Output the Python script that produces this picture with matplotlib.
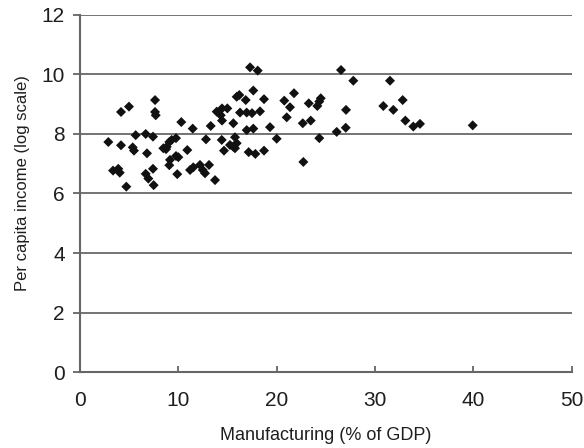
import matplotlib
matplotlib.use("Agg")
import matplotlib.pyplot as plt

# manufacturing share of GDP (%) and log per capita income
manufacturing = [
    2.88, 3.36, 3.89, 4.04, 4.17, 4.17, 4.98, 4.71, 5.36, 5.49,
    5.66, 6.68, 6.81, 6.68, 6.95, 7.42, 7.42, 7.49, 7.63, 7.63,
    7.70, 8.47, 9.08, 9.32, 9.76, 8.82, 8.75, 9.15, 9.08, 9.76,
    10.0, 10.91, 9.89, 10.30, 11.46, 13.29, 11.19, 11.52, 12.2, 12.48,
    12.71, 13.73, 12.81, 13.12, 17.29, 18.07, 15.93, 16.2, 16.85, 17.62,
    18.71, 20.77, 21.76, 23.26, 13.9, 14.44, 14.98, 14.31, 14.44, 16.27,
    16.95, 17.49, 18.3, 21.35, 21.02, 15.59, 16.95, 17.62, 19.32, 22.65,
    23.46, 14.41, 15.76, 20.0, 14.64, 15.25, 15.59, 15.93, 15.76, 17.15,
    17.83, 18.71, 22.71, 26.54, 27.79, 31.52, 24.13, 24.33, 24.48, 27.05,
    30.84, 32.81, 31.86, 33.08, 33.89, 34.57, 39.93, 24.33, 26.1, 27.02,
]
income = [
    7.73, 6.77, 6.83, 6.70, 7.62, 8.74, 8.92, 6.23, 7.55, 7.44,
    7.96, 8.00, 7.35, 6.66, 6.50, 7.91, 6.83, 6.28, 9.14, 8.74,
    8.63, 7.52, 7.73, 7.80, 7.86, 7.57, 7.49, 7.13, 6.95, 7.26,
    7.22, 7.46, 6.65, 8.40, 8.18, 8.27, 6.79, 6.88, 6.96, 6.79,
    6.68, 6.45, 7.82, 6.96, 10.24, 10.13, 9.25, 9.31, 9.14, 9.46,
    9.17, 9.12, 9.37, 9.03, 8.75, 8.86, 8.86, 8.63, 8.45, 8.72,
    8.72, 8.70, 8.76, 8.90, 8.56, 8.36, 8.13, 8.18, 8.23, 8.36,
    8.45, 7.80, 7.89, 7.84, 7.44, 7.63, 7.57, 7.69, 7.52, 7.39,
    7.33, 7.44, 7.06, 10.15, 9.79, 9.79, 8.94, 9.09, 9.20, 8.81,
    8.94, 9.14, 8.81, 8.45, 8.25, 8.34, 8.29, 7.86, 8.07, 8.21,
]
x_ticks = [0, 10, 20, 30, 40, 50]
y_ticks = [0, 2, 4, 6, 8, 10, 12]

plt.rcParams['font.family'] = ['Liberation Sans', 'DejaVu Sans']
text_color = "#1e1e1e"

fig = plt.figure(figsize=(5.84, 4.48), dpi=100)
ax = fig.add_axes([0.137, 0.1696, 0.842, 0.797])

for y in y_ticks[1:]:
    ax.axhline(y, color="#747474", lw=1.4, zorder=1)

ax.scatter(manufacturing, income, marker="D", s=26, color="#111111",
           edgecolors="none", zorder=3)

ax.set_xlim(0, 50)
ax.set_ylim(0, 12)
ax.set_xticks(x_ticks)
ax.set_yticks(y_ticks)

for side in ("top", "right"):
    ax.spines[side].set_visible(False)
for side in ("left", "bottom"):
    ax.spines[side].set_color("#666666")
    ax.spines[side].set_linewidth(1.5)

ax.tick_params(axis="x", direction="in", length=4, width=1.3, color="#666666",
               pad=14, labelsize=15, labelcolor=text_color)
ax.tick_params(axis="y", direction="out", length=5, width=1.3, color="#666666",
               pad=6, labelsize=15, labelcolor=text_color)

ax.set_xlabel("Manufacturing (% of GDP)", fontsize=13, color=text_color)
ax.set_ylabel("Per capita income (log scale)", fontsize=12, color=text_color)
ax.xaxis.set_label_coords(0.5, -0.155)
ax.yaxis.set_label_coords(-0.102, 0.53)

fig.savefig("out.png", dpi=100)
